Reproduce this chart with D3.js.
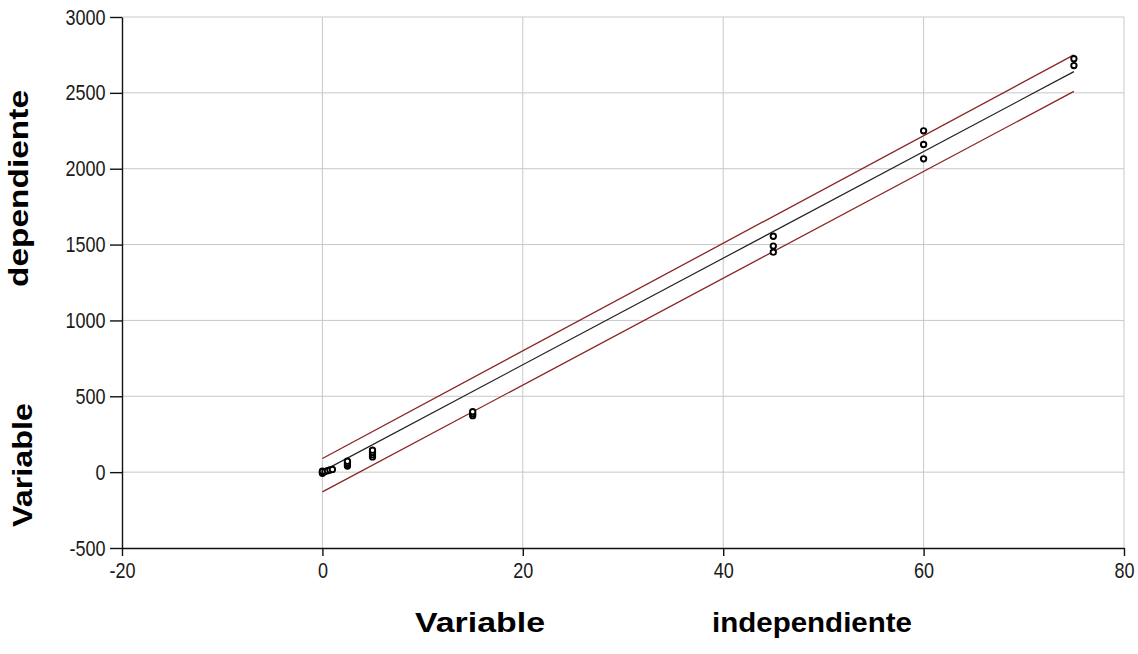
<!DOCTYPE html>
<html>
<head>
<meta charset="utf-8">
<script src="https://cdn.jsdelivr.net/npm/d3@7"></script>
<style>
	body { margin: 0; background: #fff; }
	svg { display: block; font-family: 'Liberation Sans', Arial, sans-serif; }
	.grid line { stroke: #c8c8c8; stroke-width: 1; }
	.axis path, .axis line { stroke: #111; stroke-width: 1.4; }
	.axis text { fill: #1a1a1a; font-size: 22px; }
	.title { font-weight: bold; font-size: 28px; fill: #000; }
</style>
</head>
<body>
<svg id="chart" width="1138" height="654"></svg>
<script>
// observed points (independent, dependent)
const xObs = [0, 0, 0, 0.25, 0.5, 0.75, 1, 2.5, 2.5, 2.5, 2.5, 5, 5, 5, 5, 15, 15, 15, 45, 45, 45, 60, 60, 60, 75, 75];
const yObs = [-8, 0, 6, 4, 10, 14, 18, 40, 50, 60, 72, 100, 115, 130, 145, 372, 385, 398, 1450, 1490, 1555, 2065, 2160, 2250, 2680, 2725];

// fitted line and the two bands, read at their end points
const lineX = [0, 75];
const fitY = [5, 2640];
const upperY = [90, 2750];
const lowerY = [-130, 2510];

const xTicks = [-20, 0, 20, 40, 60, 80];
const yTicks = [-500, 0, 500, 1000, 1500, 2000, 2500, 3000];

const margin = { top: 17, right: 14, bottom: 106, left: 122 };
const W = 1138;
const H = 654;
const width = W - margin.left - margin.right;
const height = H - margin.top - margin.bottom;

const x = d3.scaleLinear().domain([-20, 80]).range([0, width]);
const y = d3.scaleLinear().domain([-500, 3000]).range([height, 0]);

const $svg = d3.select('#chart');
const $g = $svg.append('g').attr('transform', `translate(${margin.left},${margin.top})`);

// grid
const $grid = $g.append('g').attr('class', 'grid');
$grid.selectAll('line.gx')
	.data(xTicks.filter(d => d > -20))
	.enter().append('line')
	.attr('class', 'gx')
	.attr('x1', d => x(d)).attr('x2', d => x(d))
	.attr('y1', 0).attr('y2', height);
$grid.selectAll('line.gy')
	.data(yTicks.filter(d => d > -500))
	.enter().append('line')
	.attr('class', 'gy')
	.attr('x1', 0).attr('x2', width)
	.attr('y1', d => y(d)).attr('y2', d => y(d));

// axes
const fmt = d => String(d);
const axisX = d3.axisBottom(x).tickValues(xTicks).tickFormat(fmt)
	.tickSize(8).tickPadding(6).tickSizeOuter(0);
const axisY = d3.axisLeft(y).tickValues(yTicks).tickFormat(fmt)
	.tickSize(12).tickPadding(4).tickSizeOuter(0);

const $ax = $g.append('g').attr('class', 'axis')
	.attr('transform', `translate(0,${height})`)
	.call(axisX);
$ax.selectAll('text').attr('transform', 'scale(0.82,1)');

const $ay = $g.append('g').attr('class', 'axis').call(axisY);
$ay.selectAll('text').attr('transform', 'scale(0.82,1)').attr('x', -20);

// lines
const pts = ys => lineX.map((d, i) => [x(d), y(ys[i])]);
const line = d3.line();
$g.append('path').attr('d', line(pts(upperY)))
	.attr('fill', 'none').attr('stroke', '#8a2424').attr('stroke-width', 1.3);
$g.append('path').attr('d', line(pts(lowerY)))
	.attr('fill', 'none').attr('stroke', '#8a2424').attr('stroke-width', 1.3);
$g.append('path').attr('d', line(pts(fitY)))
	.attr('fill', 'none').attr('stroke', '#222').attr('stroke-width', 1.2);

// points
$g.selectAll('circle.pt')
	.data(xObs.map((d, i) => ({ x: d, y: yObs[i] })))
	.enter().append('circle')
	.attr('class', 'pt')
	.attr('cx', d => x(d.x))
	.attr('cy', d => y(d.y))
	.attr('r', 2.7)
	.attr('fill', '#fff')
	.attr('stroke', '#000')
	.attr('stroke-width', 1.9);

// titles
$svg.append('text').attr('class', 'title')
	.attr('x', 415).attr('y', 632)
	.attr('textLength', 130).attr('lengthAdjust', 'spacingAndGlyphs')
	.text('Variable');
$svg.append('text').attr('class', 'title')
	.attr('x', 712).attr('y', 632)
	.attr('textLength', 200).attr('lengthAdjust', 'spacingAndGlyphs')
	.text('independiente');

$svg.append('text').attr('class', 'title')
	.attr('transform', 'translate(32,527) rotate(-90)')
	.attr('textLength', 124).attr('lengthAdjust', 'spacingAndGlyphs')
	.text('Variable');
$svg.append('text').attr('class', 'title')
	.attr('transform', 'translate(28,287) rotate(-90)')
	.attr('textLength', 197).attr('lengthAdjust', 'spacingAndGlyphs')
	.text('dependiente');
</script>
</body>
</html>
